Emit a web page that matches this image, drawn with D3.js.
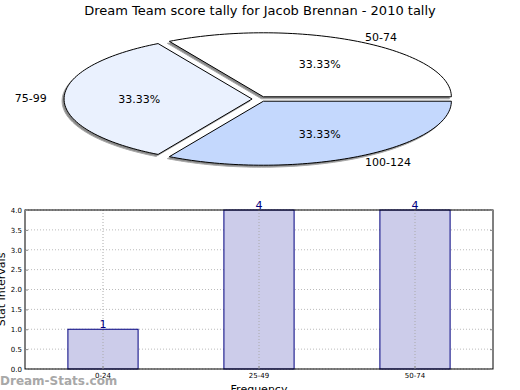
<!DOCTYPE html>
<html lang="en">
<head>
<meta charset="UTF-8">
<script src="https://d3js.org/d3.v7.min.js"></script>
<title>Dream Team score tally</title>
<style>
  body { margin: 0; background: white; }
  svg { font-family: "DejaVu Sans", sans-serif; display: block; }
</style>
</head>
<body>
<script>
// pie data
var pieLabels = ["50-74", "75-99", "100-124"];
var pieValues = [1, 1, 1];
var pieColors = ["#ffffff", "#eaf1fe", "#c4d8fd"];
// bar data
var barCats = ["0-24", "25-49", "50-74"];
var barValues = [1, 4, 4];
var yTicks = [0, 0.5, 1, 1.5, 2, 2.5, 3, 3.5, 4];

var W = 520, H = 390;
var svg = d3.select("body").append("svg").attr("width", W).attr("height", H);

svg.append("text").attr("x", 260).attr("y", 15).attr("text-anchor", "middle")
  .attr("font-size", "13px").text("Dream Team score tally for Jacob Brennan - 2010 tally");

// ---- pie (squashed ellipse, matplotlib style, counter-clockwise from 0 deg)
var cx = 259.6, cy = 99, rx = 188, ry = 64, explode = 0.04;
var total = d3.sum(pieValues);
var angles = [];
var a0 = 0;
pieValues.forEach(function (v) {
  var a1 = a0 + v / total * 2 * Math.PI;
  angles.push([a0, a1]);
  a0 = a1;
});

function wedgePath(a, b, ox, oy) {
  var pts = [];
  var n = 80;
  for (var i = 0; i <= n; i++) {
    var t = a + (b - a) * i / n;
    pts.push([ox + rx * Math.cos(t), oy - ry * Math.sin(t)]);
  }
  return "M" + ox + "," + oy + "L" + pts.map(function (p) { return p[0] + "," + p[1]; }).join("L") + "Z";
}

var pieG = svg.append("g");
var slices = angles.map(function (ab, i) {
  var mid = (ab[0] + ab[1]) / 2;
  return {
    a: ab[0], b: ab[1], mid: mid, i: i,
    ox: cx + explode * rx * Math.cos(mid),
    oy: cy - explode * ry * Math.sin(mid)
  };
});

// shadows
pieG.selectAll(".shadow").data(slices).enter().append("path")
  .attr("d", function (d) { return wedgePath(d.a, d.b, d.ox - 2, d.oy + 2); })
  .attr("fill", "#8a8a8a").attr("stroke", "#aaa").attr("stroke-width", 1);

pieG.selectAll(".wedge").data(slices).enter().append("path")
  .attr("d", function (d) { return wedgePath(d.a, d.b, d.ox, d.oy); })
  .attr("fill", function (d) { return pieColors[d.i]; })
  .attr("stroke", "#000").attr("stroke-width", 1);

pieG.selectAll(".pct").data(slices).enter().append("text")
  .attr("x", function (d) { return d.ox + 0.6 * rx * Math.cos(d.mid); })
  .attr("y", function (d) { return d.oy - 0.6 * ry * Math.sin(d.mid) + 4; })
  .attr("text-anchor", "middle").attr("font-size", "11px")
  .text(function (d) { return (pieValues[d.i] / total * 100).toFixed(2) + "%"; });

pieG.selectAll(".lbl").data(slices).enter().append("text")
  .attr("x", function (d) { return cx + 1.1 * rx * Math.cos(d.mid) + (Math.cos(d.mid) < 0 ? -6 : 2); })
  .attr("y", function (d) { return cy - 1.1 * ry * Math.sin(d.mid) + 4 + (Math.sin(d.mid) < 0 ? 2 : -1); })
  .attr("text-anchor", function (d) { return Math.cos(d.mid) < 0 ? "end" : "start"; })
  .attr("font-size", "11px")
  .text(function (d) { return pieLabels[d.i]; });

// ---- bar chart
var pLeft = 25, pRight = 493, pTop = 210, pBottom = 369;
var x = d3.scaleBand().domain(barCats).range([pLeft, pRight]).padding(0);
var y = d3.scaleLinear().domain([0, 4]).range([pBottom, pTop]);
var barW = x.bandwidth() * 0.45;

var g = svg.append("g");

// grid
g.selectAll(".hgrid").data(yTicks).enter().append("line")
  .attr("x1", pLeft).attr("x2", pRight)
  .attr("y1", function (d) { return y(d); }).attr("y2", function (d) { return y(d); })
  .attr("stroke", "#bbb").attr("stroke-width", 1).attr("stroke-dasharray", "1,2");

g.selectAll(".bar").data(barValues).enter().append("rect")
  .attr("x", function (d, i) { return x(barCats[i]) + x.bandwidth() / 2 - barW / 2; })
  .attr("y", function (d) { return y(d); })
  .attr("width", barW)
  .attr("height", function (d) { return pBottom - y(d); })
  .attr("fill", "#ccccea").attr("stroke", "#000080").attr("stroke-width", 1);

g.selectAll(".vgrid").data(barCats).enter().append("line")
  .attr("x1", function (d) { return x(d) + x.bandwidth() / 2; })
  .attr("x2", function (d) { return x(d) + x.bandwidth() / 2; })
  .attr("y1", pTop).attr("y2", pBottom)
  .attr("stroke", "#aaa").attr("stroke-width", 1).attr("stroke-dasharray", "1,2");

g.selectAll(".val").data(barValues).enter().append("text")
  .attr("x", function (d, i) { return x(barCats[i]) + x.bandwidth() / 2; })
  .attr("y", function (d) { return y(d) - 1; })
  .attr("text-anchor", "middle").attr("font-size", "11px").attr("fill", "#000080")
  .text(function (d) { return d; });

// frame
g.append("rect").attr("x", pLeft).attr("y", pTop).attr("width", pRight - pLeft).attr("height", pBottom - pTop)
  .attr("fill", "none").attr("stroke", "#000").attr("stroke-width", 1);

// axes (ticks inward)
var yAxis = g.append("g").attr("transform", "translate(" + pLeft + ",0)")
  .call(d3.axisLeft(y).tickValues(yTicks).tickFormat(d3.format(".1f")).tickSize(-3).tickPadding(3));
var yAxisR = g.append("g").attr("transform", "translate(" + pRight + ",0)")
  .call(d3.axisRight(y).tickValues(yTicks).tickSize(-3).tickFormat(""));
var xAxis = g.append("g").attr("transform", "translate(0," + pBottom + ")")
  .call(d3.axisBottom(x).tickSize(-3).tickPadding(4));
[yAxis, yAxisR, xAxis].forEach(function (ax) {
  ax.select(".domain").remove();
  ax.selectAll("line").attr("stroke", "#888");
  ax.selectAll("text").attr("font-size", "7px").attr("font-family", "DejaVu Sans, sans-serif").attr("fill", "#000");
});

svg.append("text").attr("transform", "translate(5," + ((pTop + pBottom) / 2) + ") rotate(-90)")
  .attr("text-anchor", "middle").attr("font-size", "11px").text("Stat Intervals");
svg.append("text").attr("x", 259).attr("y", 393).attr("text-anchor", "middle")
  .attr("font-size", "11px").text("Frequency");

svg.append("text").attr("x", 0).attr("y", 385).attr("font-size", "12px").attr("font-weight", "bold")
  .attr("fill", "#999").attr("opacity", 0.85).text("Dream-Stats.com");
</script>
</body>
</html>
